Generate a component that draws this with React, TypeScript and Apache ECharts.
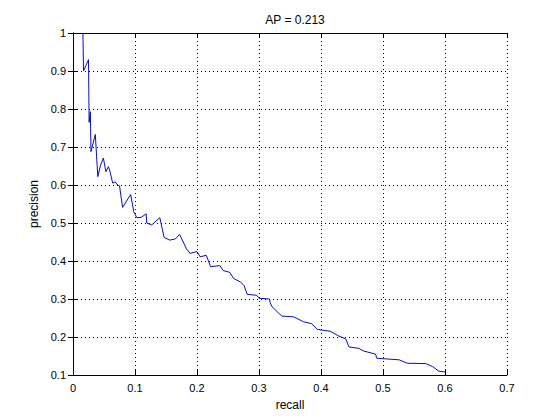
import React, { useEffect, useRef } from "react";
import * as echarts from "echarts";

const recall = [
  0.016, 0.017, 0.025, 0.026, 0.028, 0.029, 0.036, 0.040, 0.044, 0.049, 0.053, 0.057, 0.059, 0.064,
  0.068, 0.072, 0.075, 0.080, 0.093, 0.098, 0.103, 0.110, 0.118, 0.119, 0.127, 0.140, 0.147, 0.156,
  0.165, 0.172, 0.183, 0.189, 0.200, 0.205, 0.215, 0.222, 0.237, 0.242, 0.253, 0.259, 0.270, 0.276,
  0.281, 0.296, 0.300, 0.317, 0.318, 0.321, 0.329, 0.337, 0.356, 0.372, 0.385, 0.394, 0.415, 0.428,
  0.440, 0.445, 0.461, 0.469, 0.488, 0.490, 0.526, 0.539, 0.569, 0.580, 0.590, 0.600,
];
const precision = [
  1.0, 0.9, 0.93, 0.765, 0.793, 0.688, 0.733, 0.622, 0.65, 0.671, 0.635, 0.648, 0.64, 0.605,
  0.608, 0.6, 0.598, 0.541, 0.575, 0.53, 0.514, 0.515, 0.524, 0.5, 0.495, 0.514, 0.462, 0.455,
  0.458, 0.47, 0.432, 0.42, 0.425, 0.411, 0.415, 0.385, 0.388, 0.375, 0.37, 0.354, 0.345, 0.335,
  0.312, 0.310, 0.302, 0.300, 0.290, 0.28, 0.267, 0.255, 0.253, 0.24, 0.235, 0.22, 0.215, 0.203,
  0.195, 0.174, 0.17, 0.163, 0.155, 0.144, 0.14, 0.131, 0.13, 0.122, 0.11, 0.108,
];
const titleText = "AP = 0.213";
const xName = "recall";
const yName = "precision";

const FONT = "Liberation Sans, Arial, sans-serif";

export default function App() {
  const ref = useRef<HTMLDivElement>(null);
  useEffect(() => {
    if (!ref.current) return;
    const chart = echarts.init(ref.current, undefined, { renderer: "svg" });
    const axisLine = { show: true, lineStyle: { color: "#000", width: 1 } };
    const tick = { show: true, inside: true, length: 5, lineStyle: { color: "#000" } };
    const split = { show: true, lineStyle: { color: "#000", type: [1, 3] as any, width: 1 } };
    const label = { color: "#000", fontSize: 11, fontFamily: FONT, margin: 7 };
    chart.setOption({
      animation: false,
      backgroundColor: "#fff",
      title: {
        text: titleText,
        left: 290,
        top: 9,
        textAlign: "center",
        textStyle: { fontSize: 12, fontWeight: "normal", color: "#000", fontFamily: FONT },
      },
      grid: { left: 73, top: 33, right: 53, bottom: 45, containLabel: false },
      xAxis: [
        {
          type: "value",
          min: 0,
          max: 0.7,
          interval: 0.1,
          axisLine,
          axisTick: tick,
          splitLine: split,
          axisLabel: label,
          name: xName,
          nameLocation: "middle",
          nameGap: 24,
          nameTextStyle: { color: "#000", fontSize: 12, fontFamily: FONT },
        },
        {
          type: "value",
          position: "top",
          min: 0,
          max: 0.7,
          interval: 0.1,
          axisLine,
          axisTick: tick,
          splitLine: { show: false },
          axisLabel: { show: false },
        },
      ],
      yAxis: [
        {
          type: "value",
          min: 0.1,
          max: 1,
          interval: 0.1,
          axisLine,
          axisTick: tick,
          splitLine: split,
          axisLabel: label,
          name: yName,
          nameLocation: "middle",
          nameGap: 30,
          nameTextStyle: { color: "#000", fontSize: 12, fontFamily: FONT },
        },
        {
          type: "value",
          position: "right",
          min: 0.1,
          max: 1,
          interval: 0.1,
          axisLine,
          axisTick: tick,
          splitLine: { show: false },
          axisLabel: { show: false },
        },
      ],
      series: [
        {
          type: "line",
          data: recall.map((r, i) => [r, precision[i]]),
          showSymbol: false,
          lineStyle: { color: "#0a0ac8", width: 1 },
          itemStyle: { color: "#0a0ac8" },
          xAxisIndex: 0,
          yAxisIndex: 0,
        },
      ],
    });
    return () => chart.dispose();
  }, []);
  return <div ref={ref} style={{ width: 560, height: 420, position: "absolute", left: 0, top: 0 }} />;
}
